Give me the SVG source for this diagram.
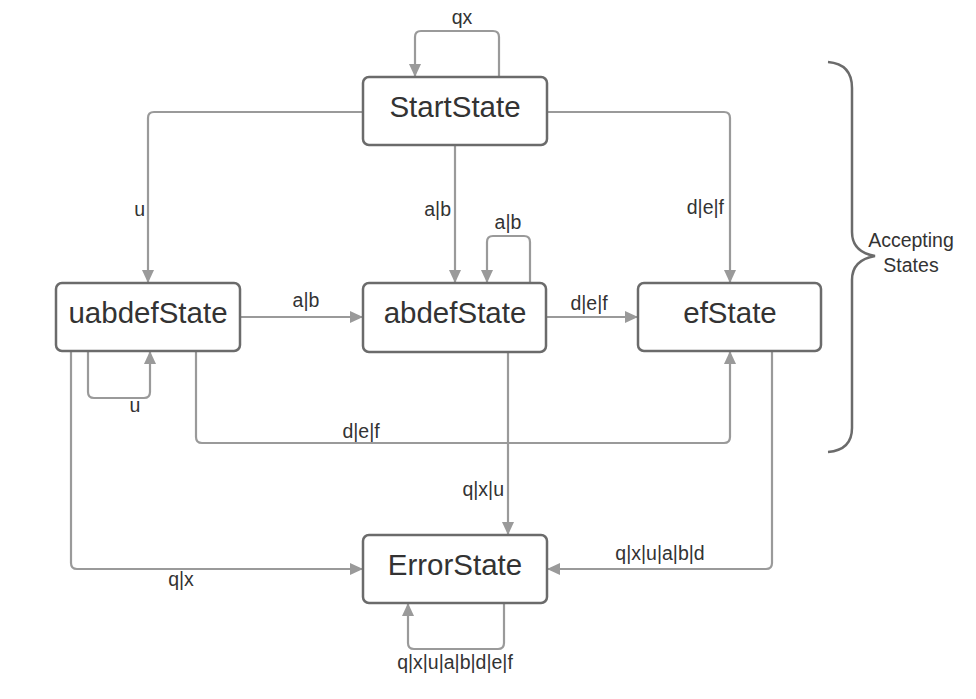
<svg xmlns="http://www.w3.org/2000/svg" width="976" height="699" viewBox="0 0 976 699">
<style>
.node rect{fill:#fff;stroke:#6b6b6b;stroke-width:2.5}
.node text{font-family:"Liberation Sans",Arial,sans-serif;font-size:29.5px;fill:#333;text-anchor:middle}
.edges path{fill:none;stroke:#9a9a9a;stroke-width:2.2;marker-end:url(#arr)}
.lbl{font-family:"Liberation Sans",Arial,sans-serif;font-size:19.5px;fill:#333}
.mid{text-anchor:middle}
.end{text-anchor:end}
</style>
<defs>
<marker id="arr" markerUnits="userSpaceOnUse" viewBox="0 0 14 14" refX="13" refY="7" markerWidth="14" markerHeight="14" orient="auto">
<path d="M0,1 L13,7 L0,13 z" fill="#9a9a9a"/>
</marker>
</defs>
<rect width="976" height="699" fill="#fff"/>
<g class="edges">
<path d="M499,77 V37 Q499,31 493,31 H421 Q415,31 415,37 V77"/>
<path d="M363,112 H154 Q148,112 148,118 V283"/>
<path d="M455,145 V283"/>
<path d="M547,112 H724 Q730,112 730,118 V283"/>
<path d="M530,283 V242 Q530,236 524,236 H493 Q487,236 487,242 V283"/>
<path d="M240,317 H363"/>
<path d="M546,317 H638"/>
<path d="M88,351 V392 Q88,398 94,398 H144 Q150,398 150,392 V351"/>
<path d="M196,351 V437 Q196,443 202,443 H724 Q730,443 730,437 V351"/>
<path d="M508,352 V535"/>
<path d="M71,351 V563 Q71,569 77,569 H363"/>
<path d="M772,351 V563 Q772,569 766,569 H547"/>
<path d="M504,603 V643 Q504,649 498,649 H414 Q408,649 408,643 V603"/>
</g>
<g id="edge-labels">
<text class="lbl mid" x="462" y="24">qx</text>
<text class="lbl end" x="145" y="216">u</text>
<text class="lbl end" x="451" y="216">a|b</text>
<text class="lbl end" x="724" y="214">d|e|f</text>
<text class="lbl mid" x="508" y="229">a|b</text>
<text class="lbl mid" x="306" y="307">a|b</text>
<text class="lbl mid" x="589" y="310">d|e|f</text>
<text class="lbl mid" x="135" y="412">u</text>
<text class="lbl mid" x="361" y="438">d|e|f</text>
<text class="lbl end" x="504" y="496">q|x|u</text>
<text class="lbl mid" x="181" y="586">q|x</text>
<text class="lbl mid" x="660" y="560">q|x|u|a|b|d</text>
<text class="lbl mid" x="455" y="669">q|x|u|a|b|d|e|f</text>
</g>
<g id="StartState" class="node"><rect x="363" y="77" width="184" height="68" rx="6"/><text x="455" y="117">StartState</text></g>
<g id="uabdefState" class="node"><rect x="56" y="283" width="184" height="68" rx="6"/><text x="148" y="323">uabdefState</text></g>
<g id="abdefState" class="node"><rect x="363" y="283" width="183" height="69" rx="6"/><text x="455" y="323">abdefState</text></g>
<g id="efState" class="node"><rect x="638" y="283" width="183" height="68" rx="6"/><text x="730" y="323">efState</text></g>
<g id="ErrorState" class="node"><rect x="363" y="535" width="184" height="68" rx="6"/><text x="455" y="575">ErrorState</text></g>
<g id="AcceptingStates">
<path d="M828,62 Q852,64 852,88 V232 Q852,252 875,256 Q852,260 852,280 V428 Q852,450 828,452" fill="none" stroke="#6b6b6b" stroke-width="2.5"/>
<text class="lbl mid" x="911" y="247">Accepting</text>
<text class="lbl mid" x="911" y="272">States</text>
</g>
</svg>
